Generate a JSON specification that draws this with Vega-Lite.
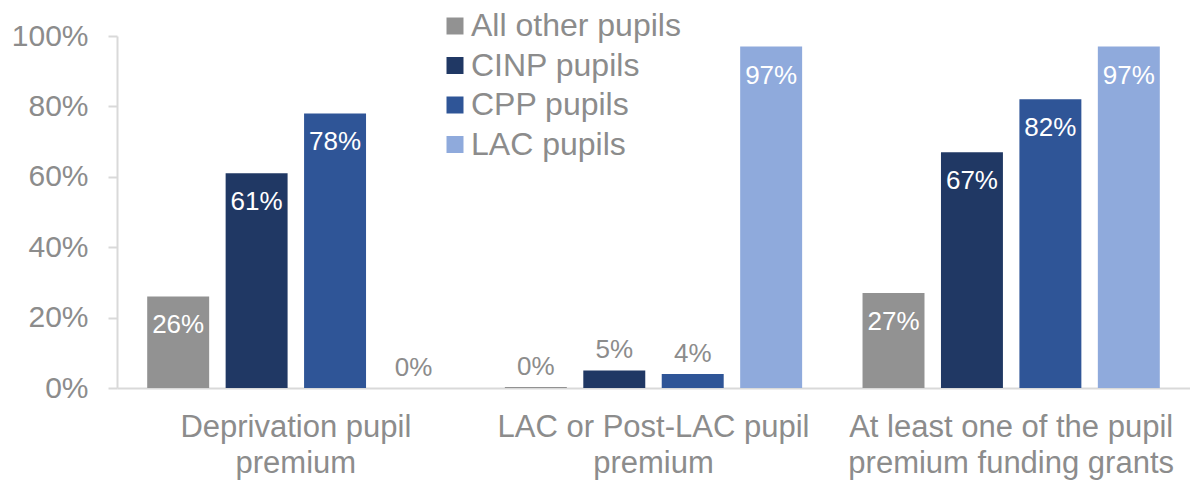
{
  "$schema": "https://vega.github.io/schema/vega-lite/v6.json",
  "width": 1073,
  "height": 352,
  "autosize": {"type": "none"},
  "padding": {"left": 117, "top": 36, "right": 0, "bottom": 92},
  "config": {"view": {"stroke": null}, "font": "Liberation Sans"},
  "data": {
    "values": [
      {"category": "Deprivation pupil|premium", "group": "All other pupils", "value": 0.26},
      {"category": "Deprivation pupil|premium", "group": "CINP pupils", "value": 0.61},
      {"category": "Deprivation pupil|premium", "group": "CPP pupils", "value": 0.78},
      {"category": "Deprivation pupil|premium", "group": "LAC pupils", "value": 0},
      {"category": "LAC or Post-LAC pupil|premium", "group": "All other pupils", "value": 0.003},
      {"category": "LAC or Post-LAC pupil|premium", "group": "CINP pupils", "value": 0.05},
      {"category": "LAC or Post-LAC pupil|premium", "group": "CPP pupils", "value": 0.04},
      {"category": "LAC or Post-LAC pupil|premium", "group": "LAC pupils", "value": 0.97},
      {"category": "At least one of the pupil|premium funding grants", "group": "All other pupils", "value": 0.27},
      {"category": "At least one of the pupil|premium funding grants", "group": "CINP pupils", "value": 0.67},
      {"category": "At least one of the pupil|premium funding grants", "group": "CPP pupils", "value": 0.82},
      {"category": "At least one of the pupil|premium funding grants", "group": "LAC pupils", "value": 0.97}
    ]
  },
  "encoding": {
    "x": {
      "field": "category",
      "type": "nominal",
      "sort": ["Deprivation pupil|premium", "LAC or Post-LAC pupil|premium", "At least one of the pupil|premium funding grants"],
      "scale": {"paddingInner": 0, "paddingOuter": 0},
      "axis": {
        "title": null,
        "labelExpr": "split(datum.label, '|')",
        "labelAngle": 0,
        "labelFontSize": 31,
        "labelColor": "#8c8c8c",
        "labelLineHeight": 36,
        "labelPadding": 24,
        "labelLimit": 0,
        "ticks": false,
        "domainColor": "#d9d9d9",
        "domainWidth": 2
      }
    },
    "xOffset": {
      "field": "group",
      "type": "nominal",
      "sort": ["All other pupils", "CINP pupils", "CPP pupils", "LAC pupils"],
      "scale": {"paddingInner": 0.21, "paddingOuter": 0.385}
    },
    "y": {
      "field": "value",
      "type": "quantitative",
      "scale": {"domain": [0, 1]},
      "axis": {
        "title": null,
        "values": [0, 0.2, 0.4, 0.6, 0.8, 1],
        "format": ".0%",
        "grid": false,
        "labelFontSize": 30,
        "labelColor": "#8c8c8c",
        "labelPadding": 20,
        "tickSize": 9,
        "tickColor": "#d9d9d9",
        "tickWidth": 2,
        "domainColor": "#d9d9d9",
        "domainWidth": 2
      }
    }
  },
  "layer": [
    {
      "mark": {"type": "bar"},
      "encoding": {
        "color": {
          "field": "group",
          "type": "nominal",
          "sort": ["All other pupils", "CINP pupils", "CPP pupils", "LAC pupils"],
          "scale": {
            "domain": ["All other pupils", "CINP pupils", "CPP pupils", "LAC pupils"],
            "range": ["#929292", "#203864", "#2f5597", "#8faadc"]
          },
          "legend": {
            "title": null,
            "orient": "none",
            "legendX": 322,
            "legendY": -26,
            "symbolType": "square",
            "symbolSize": 289,
            "symbolStrokeWidth": 0,
            "labelFontSize": 32,
            "labelColor": "#8c8c8c",
            "labelOffset": 0,
            "labelLimit": 0,
            "rowPadding": 7.5
          }
        }
      }
    },
    {
      "transform": [{"filter": "datum.value >= 0.1"}],
      "mark": {"type": "text", "baseline": "middle", "dy": 29, "fontSize": 26, "color": "white"},
      "encoding": {"text": {"field": "value", "type": "quantitative", "format": ".0%"}}
    },
    {
      "transform": [{"filter": "datum.value < 0.1"}],
      "mark": {"type": "text", "baseline": "middle", "dy": -20, "fontSize": 26, "color": "#8c8c8c"},
      "encoding": {"text": {"field": "value", "type": "quantitative", "format": ".0%"}}
    }
  ]
}
